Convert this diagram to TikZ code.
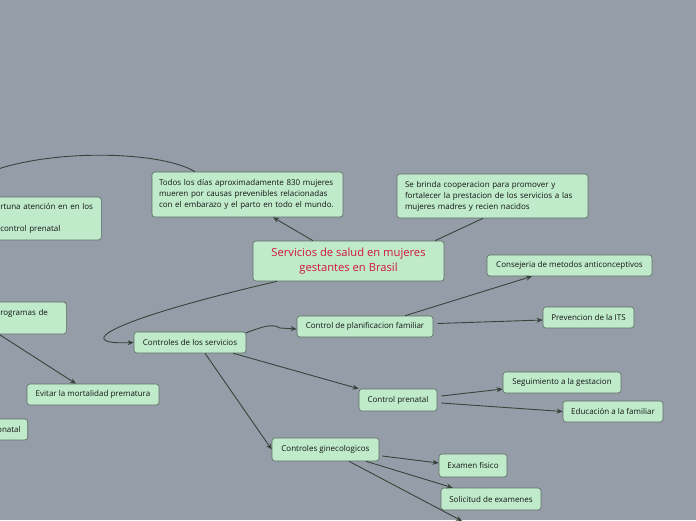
\documentclass[tikz,border=0pt]{standalone}
\usepackage{fontspec}
\setmainfont{Open Sans}
\usetikzlibrary{arrows.meta}
\definecolor{MapBack}{HTML}{959EA8}
\definecolor{MapFill}{HTML}{BFEBCB}
\definecolor{MapEdge}{HTML}{5E6B63}
\definecolor{MapLine}{HTML}{36443B}
\definecolor{MapRed}{HTML}{D3143B}
\definecolor{MapText}{HTML}{141414}

\begin{document}
\begin{tikzpicture}[x=1pt,y=-1pt,
  topic/.style={draw=MapEdge,fill=MapFill,rounded corners=3pt,line width=0.6pt,text=MapText,font=\fontsize{8}{11}\selectfont,inner sep=0pt,align=center,minimum height=21pt},
  link/.style={draw=MapLine,line width=0.9pt,-{Stealth[length=6pt,width=5pt]}},
  plain/.style={draw=MapLine,line width=0.9pt}]
\fill[MapBack] (0,0) rectangle (696,520);
\useasboundingbox (0,0) rectangle (696,520);
% central topic and notes
\node[topic,minimum width=191pt,minimum height=40pt,text=MapRed,font=\fontsize{11.2}{15}\selectfont] (main) at (348.5,261) {Servicios de salud en mujeres\\gestantes en Brasil};
\node[topic,minimum height=45pt,text width=177pt,inner xsep=7pt,align=left] (todos) at (247.5,194.5) {Todos los días aproximadamente 830 mujeres\\mueren por causas prevenibles relacionadas\\con el embarazo y el parto en todo el mundo.};
\node[topic,minimum height=44pt,text width=175pt,inner xsep=8pt,align=left] (sebrinda) at (492.5,196) {Se brinda cooperacion para promover y\\fortalecer la prestacion de los servicios a las\\mujeres madres y recien nacidos};
% left side, cut by the border
\node[topic,anchor=west,minimum height=43pt,text width=95pt,inner xsep=6pt,align=left] (oportuna) at (-6,218.5) {rtuna atención en en los\\~\\control prenatal};
\node[topic,anchor=west,minimum height=32pt,text width=60pt,inner xsep=6pt,align=left] (rogramas) at (-6,318) {rogramas de\\~};
\node[topic,minimum width=132pt] (evitar) at (93,394.5) {Evitar la mortalidad prematura};
\node[topic,anchor=east,text width=30pt,inner xsep=7pt,align=right] (onatal) at (28,429.5) {onatal};
% services
\node[topic,minimum width=112pt] (controles) at (190,342.5) {Controles de los servicios};
\node[topic,minimum width=136pt] (planif) at (365,326.5) {Control de planificacion familiar};
\node[topic,minimum width=165pt] (consejeria) at (569.5,265.5) {Consejeria de metodos anticonceptivos};
\node[topic,minimum width=91pt] (prevencion) at (588.5,317.5) {Prevencion de la ITS};
\node[topic,minimum width=78pt,minimum height=22pt] (prenatal) at (398,400) {Control prenatal};
\node[topic,minimum width=118pt] (seguimiento) at (562,382.5) {Seguimiento a la gestacion};
\node[topic,minimum width=100pt] (educacion) at (613,411.5) {Educación a la familiar};
\node[topic,minimum width=107pt,minimum height=23pt] (gineco) at (325.5,449.5) {Controles ginecologicos};
\node[topic,minimum width=68pt,minimum height=23pt] (examen) at (473,465.5) {Examen fisico};
\node[topic,minimum width=100pt,minimum height=22pt] (solicitud) at (491,499) {Solicitud de examenes};
\coordinate (offleft) at (-20,176);
\coordinate (offbottom) at (462,521);
% connectors
\draw[link] ([xshift=-35.5pt]main.north) -- ([xshift=25.5pt]todos.south);
\draw[plain] ([xshift=86.5pt]main.north) -- ([xshift=-9.5pt]sebrinda.south);
\draw[plain] ([xshift=-52.5pt]todos.north) .. controls (160,150) and (40,148) .. (offleft);
\draw[link] ([xshift=-71.5pt]main.south) .. controls (110,320) and (70,345) .. (controles.west);
\draw[link] ([yshift=-1pt]controles.north east) .. controls (262,327) and (272,323) .. (280,328) -- ([yshift=-2.5pt]planif.west);
\draw[link] ([xshift=-13pt]controles.south east) -- (prenatal.north west);
\draw[link] ([xshift=15pt]controles.south) -- (gineco.west);
\draw[link] ([xshift=40pt]planif.north) -- ([xshift=-37.5pt]consejeria.south);
\draw[link] ([xshift=4pt,yshift=3pt]planif.east) -- ([yshift=-2.5pt]prevencion.west);
\draw[link] ([xshift=4pt,yshift=4pt]prenatal.east) -- ([yshift=-6.5pt]seguimiento.west);
\draw[link] ([xshift=4pt,yshift=-3pt]prenatal.east) -- (educacion.west);
\draw[link] ([xshift=3pt,yshift=-6.5pt]gineco.east) -- ([yshift=2.5pt]examen.west);
\draw[link] ([xshift=40.5pt]gineco.south) -- ([xshift=12pt]solicitud.north west);
\draw[link] ([xshift=23.5pt]gineco.south) -- (offbottom);
\draw[link] ([xshift=5pt]rogramas.south west) -- ([xshift=-17pt]evitar.north);
\end{tikzpicture}
\end{document}
